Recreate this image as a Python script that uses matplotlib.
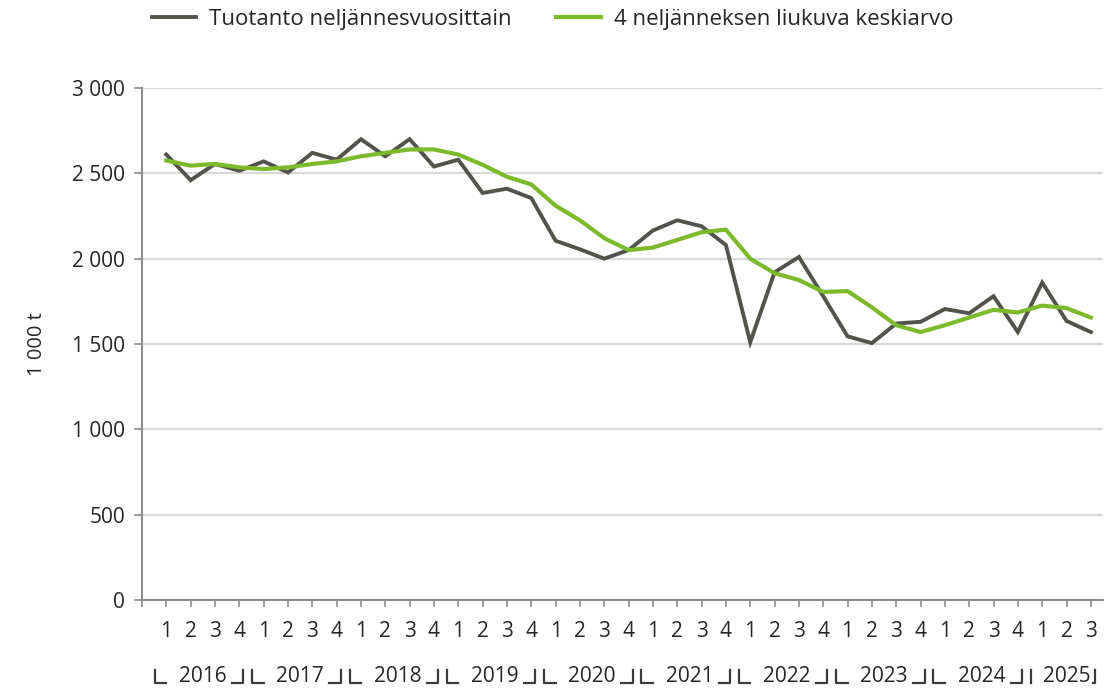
import matplotlib
matplotlib.use("Agg")
import matplotlib.pyplot as plt
import matplotlib.transforms as mtransforms
from matplotlib.ticker import FuncFormatter

years = ["2016", "2017", "2018", "2019", "2020", "2021", "2022", "2023", "2024", "2025"]
quarter_labels = ["1", "2", "3", "4"] * 9 + ["1", "2", "3"]

production = [2610, 2460, 2555, 2515, 2570, 2505, 2620, 2580, 2700, 2600, 2700, 2540,
              2580, 2385, 2410, 2355, 2105, 2055, 2000, 2050, 2165, 2225, 2190, 2080,
              1510, 1920, 2010, 1780, 1545, 1505, 1620, 1630, 1705, 1680, 1780, 1570,
              1860, 1635, 1570]
moving_avg = [2575, 2545, 2555, 2535, 2525, 2535, 2555, 2570, 2600, 2620, 2640, 2640,
              2610, 2550, 2480, 2435, 2310, 2225, 2120, 2050, 2065, 2110, 2155, 2170,
              2000, 1915, 1875, 1805, 1810, 1715, 1610, 1570, 1610, 1655, 1700, 1685,
              1725, 1710, 1655]

series_names = ["Tuotanto neljännesvuosittain", "4 neljänneksen liukuva keskiarvo"]
ylabel = "1 000 t"

FONT = ["Open Sans", "DejaVu Sans"]
plt.rcParams["font.family"] = FONT
text_color = "#262626"
gray = "#53534d"
green = "#7dba2b"
axis_color = "#8c8c8c"

fig = plt.figure(figsize=(11.12, 6.90), dpi=100)
ax = fig.add_axes([142 / 1112, 1 - 600 / 690, (1103 - 142) / 1112, (600 - 88) / 690])

x = list(range(len(production)))
ax.plot(x, production, color=gray, lw=2.8, label=series_names[0], solid_joinstyle="miter", zorder=3)
ax.plot(x, moving_avg, color=green, lw=3.0, label=series_names[1], zorder=4)

ax.set_xlim(-1, 38.5)
ax.set_ylim(0, 3000)
ax.set_yticks([0, 500, 1000, 1500, 2000, 2500, 3000])
ax.yaxis.set_major_formatter(FuncFormatter(lambda v, p: f"{int(v):,}".replace(",", " ")))
ax.grid(axis="y", color="#d9d9d9", lw=1.6, zorder=0)
ax.set_axisbelow(True)

ax.set_xticks(range(-1, 39))
ax.set_xticklabels([""] + quarter_labels)
for s in ["top", "right"]:
    ax.spines[s].set_visible(False)
for s in ["left", "bottom"]:
    ax.spines[s].set_color(axis_color)
    ax.spines[s].set_linewidth(1.5)
ax.tick_params(axis="x", length=5, width=1.2, color=axis_color, labelsize=15,
               labelcolor=text_color, pad=10)
ax.tick_params(axis="y", length=6, width=1.2, color=axis_color, labelsize=15,
               labelcolor=text_color, pad=6)
ax.set_ylabel(ylabel, fontsize=14.5, color=text_color, labelpad=18)

# Year brackets below the quarter labels
trans = mtransforms.blended_transform_factory(ax.transData, fig.transFigure)
y_top = 1 - 670 / 690
y_bot = 1 - 683 / 690
y_text = 1 - 677 / 690
lcol = "#3a3a3a"
for i, yr in enumerate(years):
    start = i * 4 - 0.5
    nq = 4 if i < len(years) - 1 else 3
    end = start + nq
    mid = (start + end) / 2
    lx = start + 0.03
    lh = max(lx, min(start + 0.5, mid - 1.45))
    rx = end - 0.33
    rh = min(rx, max(end - 0.8, mid + 1.1))
    ax.plot([lx, lx, lh], [y_top, y_bot, y_bot], color=lcol,
            lw=1.6, transform=trans, clip_on=False)
    ax.plot([rh, rx, rx], [y_bot, y_bot, y_top], color=lcol,
            lw=1.6, transform=trans, clip_on=False)
    ax.text(mid, y_text, yr, transform=trans, ha="center", va="center", fontsize=15,
            color=text_color)

fig.legend(loc="upper center", bbox_to_anchor=(0.497, 1.01), ncol=2, frameon=False,
           fontsize=16, handlelength=2.0, handletextpad=0.6, columnspacing=2.0,
           labelcolor=text_color, borderaxespad=0.3)

fig.savefig("out.png", dpi=100)
